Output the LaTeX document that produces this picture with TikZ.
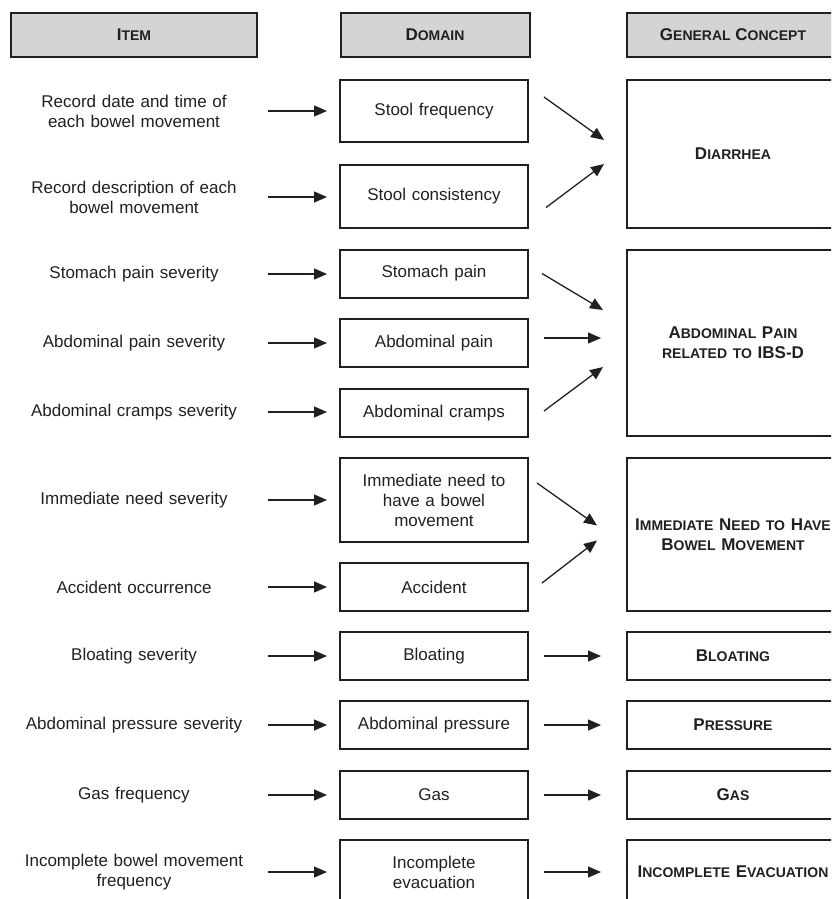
\documentclass[tikz,border=0pt]{standalone}
\usepackage{fontspec}
\setmainfont{Liberation Sans}
\usetikzlibrary{arrows.meta}
\definecolor{hdrgray}{RGB}{211,212,214}
\definecolor{ink}{RGB}{35,31,32}
\newcommand\sck[2]{#1{\fontsize{14}{20}\selectfont #2}}

\begin{document}
\begin{tikzpicture}[
      x=1pt, y=-1pt,
      every node/.style={text=ink},
      hdr/.style={draw=ink, line width=2pt, fill=hdrgray, minimum height=44pt,
        inner sep=0pt, font=\fontsize{17}{20}\selectfont\bfseries},
      item/.style={minimum width=246pt, text width=240pt, align=center,
        inner sep=0pt, font=\fontsize{17}{20}\selectfont},
      dom/.style={draw=ink, line width=2pt, minimum width=188pt, text width=170pt,
        minimum height=48pt, align=center, inner sep=0pt,
        font=\fontsize{17}{20}\selectfont},
      gen/.style={draw=ink, line width=2pt, minimum width=212pt, text width=205pt,
        minimum height=48pt, align=center, inner sep=0pt,
        font=\fontsize{17}{20}\selectfont\bfseries},
      arr/.style={-{Triangle[length=13pt,width=11pt]}, line width=1.3pt, draw=ink},
      toDom/.style={arr, shorten <=11pt, shorten >=12pt},
      toGen/.style={arr, shorten <=15pt, shorten >=25pt},
    ]

    \useasboundingbox (0,0) rectangle (831,899);
    \clip (0,0) rectangle (831,899);

    % -------------------------------------------------------
    %  Column headers
    % -------------------------------------------------------
    \node[hdr, minimum width=246pt] (hItem) at (134,35) {\sck{I}{TEM}};
    \node[hdr, minimum width=189pt] (hDom) at (435,35) {\sck{D}{OMAIN}};
    \node[hdr, minimum width=212pt] (hGen) at (733,35) {\sck{G}{ENERAL} \sck{C}{ONCEPT}};

    % -------------------------------------------------------
    %  Items
    % -------------------------------------------------------
    \node[item] (i1) at (134,111) {Record date and time of\\each bowel movement};
    \node[item] (i2) at (134,197) {Record description of each\\bowel movement};
    \node[item] (i3) at (134,274) {Stomach pain severity};
    \node[item] (i4) at (134,343) {Abdominal pain severity};
    \node[item] (i5) at (134,412) {Abdominal cramps severity};
    \node[item] (i6) at (134,500) {Immediate need severity};
    \node[item] (i7) at (134,587) {Accident occurrence};
    \node[item] (i8) at (134,656) {Bloating severity};
    \node[item] (i9) at (134,725) {Abdominal pressure severity};
    \node[item] (i10) at (134,795) {Gas frequency};
    \node[item] (i11) at (134,872) {Incomplete bowel movement\\frequency};

    % -------------------------------------------------------
    %  Domains
    % -------------------------------------------------------
    \node[dom, minimum height=62pt] (d1) at (434,111) {Stool frequency};
    \node[dom, minimum height=63pt] (d2) at (434,196.5) {Stool consistency};
    \node[dom] (d3) at (434,273.5) {Stomach pain};
    \node[dom] (d4) at (434,343) {Abdominal pain};
    \node[dom] (d5) at (434,413) {Abdominal cramps};
    \node[dom, minimum height=84pt] (d6) at (434,500) {Immediate need to\\have a bowel\\movement};
    \node[dom] (d7) at (434,587) {Accident};
    \node[dom] (d8) at (434,656) {Bloating};
    \node[dom] (d9) at (434,725) {Abdominal pressure};
    \node[dom] (d10) at (434,795) {Gas};
    \node[dom, minimum height=64pt] (d11) at (434,872) {Incomplete\\evacuation};

    % -------------------------------------------------------
    %  General concepts
    % -------------------------------------------------------
    \node[gen, minimum height=148pt] (g1) at (733,154) {\sck{D}{IARRHEA}};
    \node[gen, minimum height=186pt] (g2) at (733,343)
      {\sck{A}{BDOMINAL} \sck{P}{AIN}\\{\fontsize{14}{20}\selectfont RELATED TO} IBS-D};
    \node[gen, minimum height=153pt] (g3) at (733,534.5)
      {\sck{I}{MMEDIATE} \sck{N}{EED} {\fontsize{14}{20}\selectfont TO} \sck{H}{AVE}\\\sck{B}{OWEL} \sck{M}{OVEMENT}};
    \node[gen] (g4) at (733,656) {\sck{B}{LOATING}};
    \node[gen] (g5) at (733,725) {\sck{P}{RESSURE}};
    \node[gen] (g6) at (733,795) {\sck{G}{AS}};
    \node[gen, minimum height=64pt] (g7) at (733,872) {\sck{I}{NCOMPLETE} \sck{E}{VACUATION}};

    % Item -> domain
    \foreach \n in {1,...,11} {
      \draw[toDom] (i\n.east) -- (i\n.east -| d\n.west);
    }

    % Domain -> concept, one to one
    \foreach \n/\g in {8/4, 9/5, 10/6, 11/7} {
      \draw[toGen] (d\n.east) -- (d\n.east -| g\g.west);
    }
    \draw[toGen] ([yshift=5pt]d4.east) -- ([yshift=5pt]d4.east -| g2.west);

    % Domains merging into one concept
    \draw[arr] ([xshift=15pt,yshift=14pt]d1.east) -- ([xshift=-22pt,yshift=14pt]g1.west);
    \draw[arr] ([xshift=17pt,yshift=-11pt]d2.east) -- ([xshift=-22pt,yshift=-10pt]g1.west);

    \draw[arr] ([xshift=13pt]d3.east) -- ([xshift=-23pt,yshift=33pt]g2.west);
    \draw[arr] ([xshift=15pt,yshift=2pt]d5.east) -- ([xshift=-23pt,yshift=-24pt]g2.west);

    \draw[arr] ([xshift=8pt,yshift=17pt]d6.east) -- ([xshift=-29pt,yshift=9pt]g3.west);
    \draw[arr] ([xshift=13pt,yshift=4pt]d7.east) -- ([xshift=-29pt,yshift=-6pt]g3.west);

  \end{tikzpicture}
\end{document}
